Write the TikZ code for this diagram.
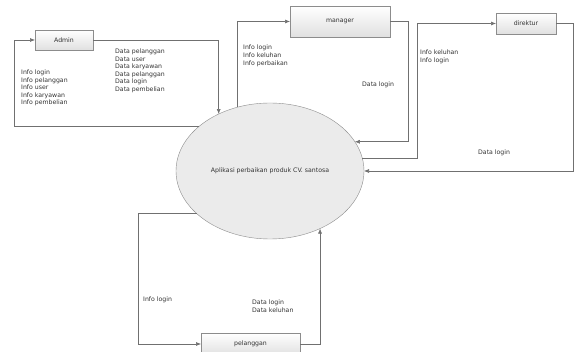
\documentclass[tikz,border=0pt]{standalone}
\usepackage{fontspec}
\setmainfont{DejaVu Sans}
\usetikzlibrary{arrows.meta,shapes.geometric}
\definecolor{flowgray}{HTML}{707070}
\definecolor{boxgray}{HTML}{8C8C8C}
\definecolor{inkgray}{HTML}{333333}
\newcommand{\dfdfont}{\fontsize{6.2}{7.6}\selectfont}
\tikzset{
    entity/.style={draw=boxgray, top color=white, bottom color=black!12, text=inkgray,
        font=\dfdfont, inner sep=0pt, outer sep=0pt},
    process/.style={ellipse, draw=boxgray, fill=black!8, text=inkgray, font=\dfdfont,
        inner sep=0pt, outer sep=0pt, minimum width=188pt, minimum height=136pt},
    flow/.style={draw=flowgray, line width=0.6pt, -{Latex[length=5pt,width=4pt]}},
    note/.style={anchor=north west, align=left, inner sep=0pt, text=inkgray, font=\dfdfont}
}

\begin{document}
\begin{tikzpicture}[x=1pt, y=-1pt]
    \clip (0,0) rectangle (574,352);
    \node[process] (sistem) at (270,171) {Aplikasi perbaikan produk CV. santosa};
    \node[entity, minimum width=58pt, minimum height=20pt] (admin) at (64,40) {Admin};
    \node[entity, minimum width=100pt, minimum height=31pt] (manager) at (340,21.5) {manager};
    \node[entity, minimum width=60pt, minimum height=21pt] (direktur) at (526,23.5) {direktur};
    \node[entity, minimum width=99pt, minimum height=22pt] (pelanggan) at (250.5,344) {pelanggan};

    \coordinate (adminleft) at (14,0);
    \coordinate (direkturleft) at (417,0);
    \coordinate (pelangganleft) at (138,0);

    \draw[flow] (admin.east) -| (sistem.132);
    \draw[flow] (sistem.148) -- (sistem.148 -| adminleft) |- (admin.west);
    \draw[flow] (sistem.117) |- (manager.west);
    \draw[flow] (manager.east) -- ++(18,0) |- (sistem.19);
    \draw[flow] (sistem.8) -- (sistem.8 -| direkturleft) |- (direktur.west);
    \draw[flow] (direktur.east) -- ++(17,0) |- (sistem.0);
    \draw[flow] (sistem.210) -- (sistem.210 -| pelangganleft) |- (pelanggan.west);
    \draw[flow] (pelanggan.east) -| (sistem.311);

    \node[note] (adminout) at (21,69.5) {Info login\\Info pelanggan\\Info user\\Info karyawan\\Info pembelian};
    \node[note] (adminin) at (115,48.5) {Data pelanggan\\Data user\\Data karyawan\\Data pelanggan\\Data login\\Data pembelian};
    \node[note] (managerout) at (243,45) {Info login\\Info keluhan\\Info perbaikan};
    \node[note] (managerin) at (362,82) {Data login};
    \node[note] (direkturout) at (420,49.5) {Info keluhan\\Info login};
    \node[note] (direkturin) at (478,150) {Data login};
    \node[note] (pelangganout) at (143,297) {Info login};
    \node[note] (pelangganin) at (252,300) {Data login\\Data keluhan};
\end{tikzpicture}
\end{document}
